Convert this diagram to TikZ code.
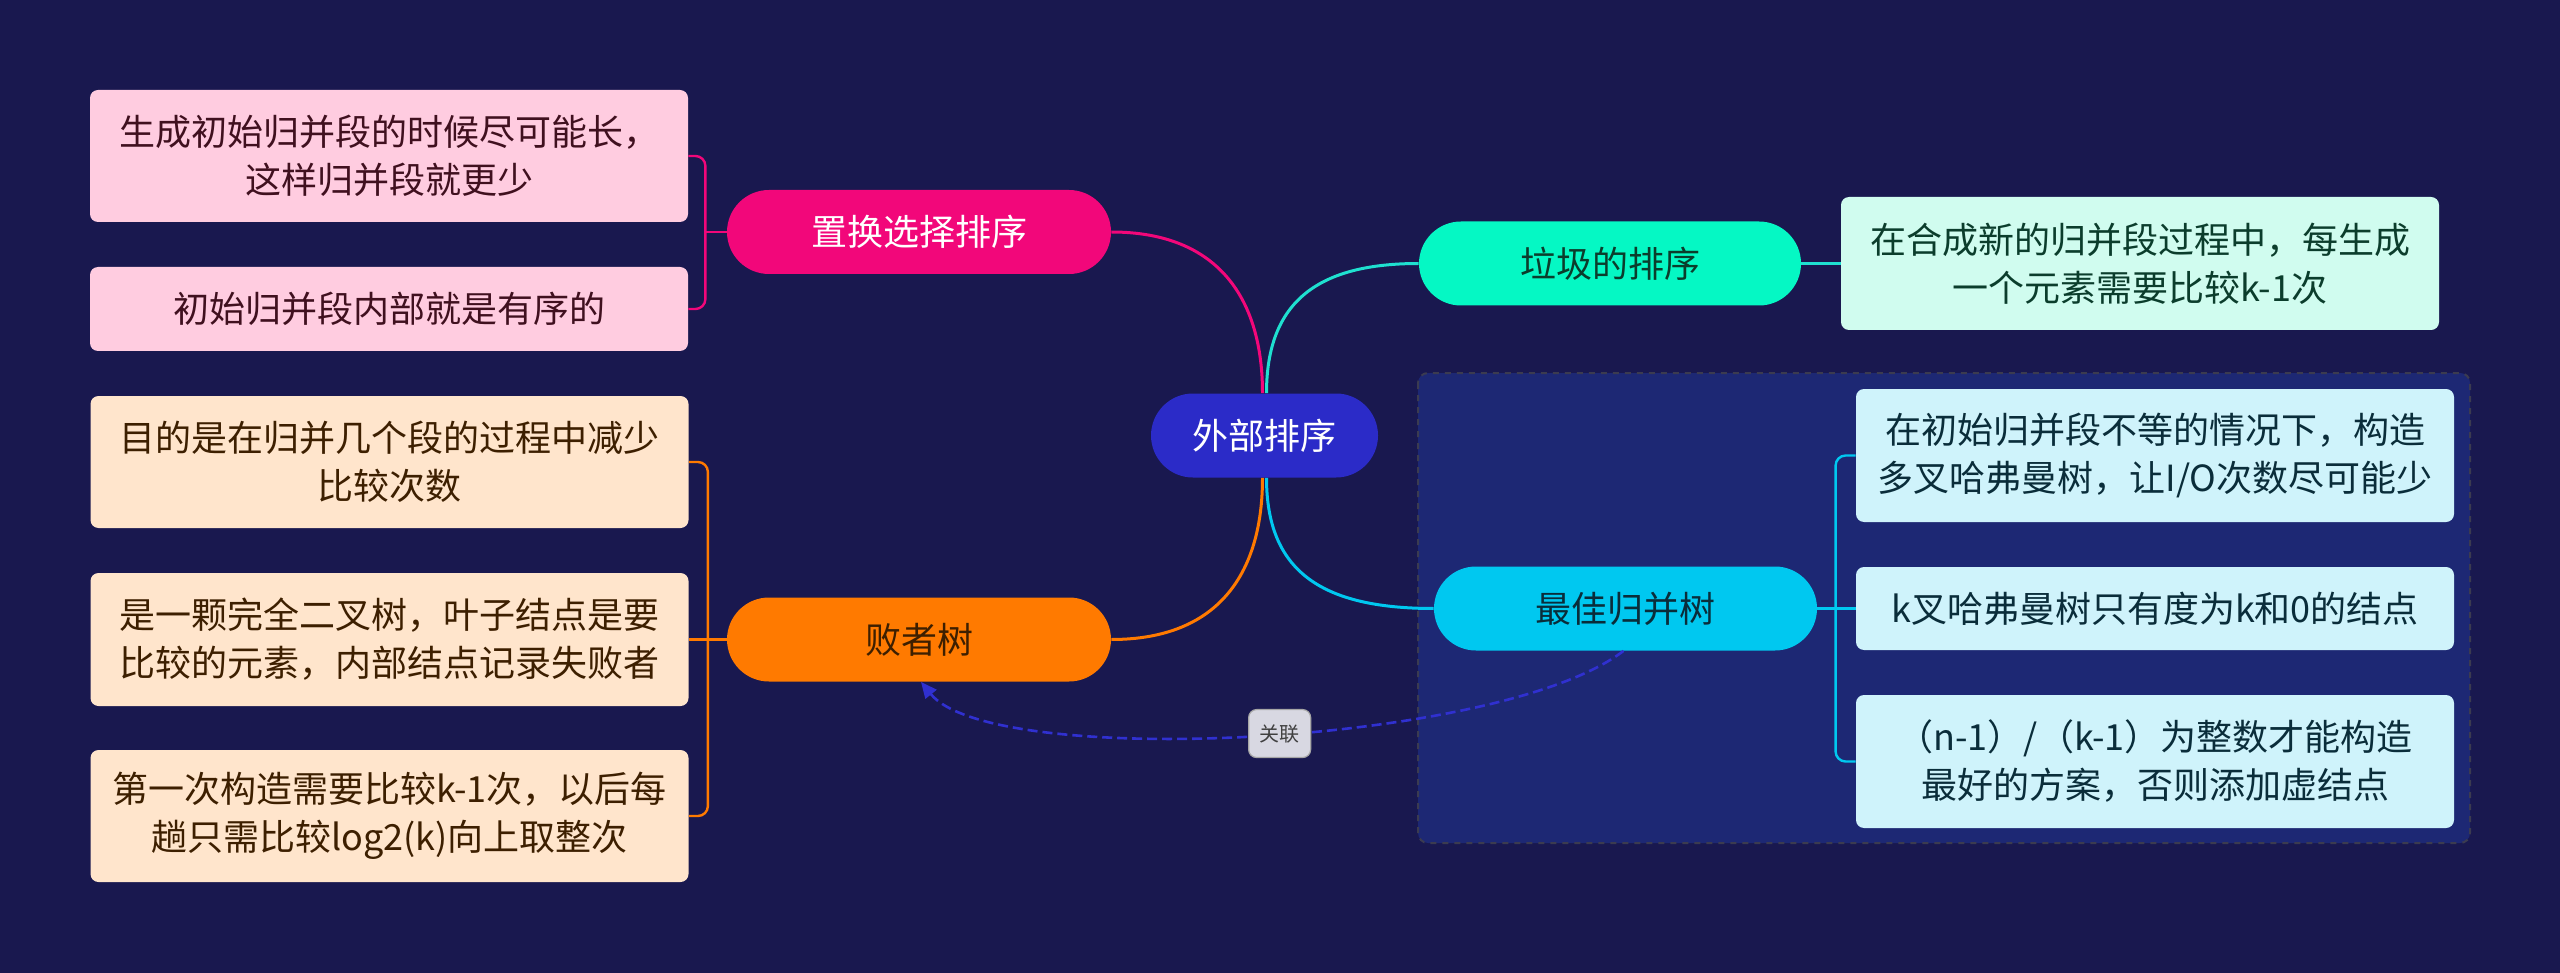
\documentclass[tikz,border=0pt]{standalone}
\usepackage{fontspec}
\setmainfont{Noto Sans CJK SC}
\usetikzlibrary{arrows.meta}
\definecolor{bg}{HTML}{19184F}
\definecolor{boxbg}{HTML}{1D2874}
\definecolor{boxline}{HTML}{3B3B50}
\definecolor{cblue}{HTML}{2B2BC8}
\definecolor{cpink}{HTML}{F2077A}
\definecolor{cteal}{HTML}{05F8C4}
\definecolor{tealline}{HTML}{1FE0D0}
\definecolor{corange}{HTML}{FF7A00}
\definecolor{ccyan}{HTML}{00C8F0}
\definecolor{lpink}{HTML}{FFCCE0}
\definecolor{lpeach}{HTML}{FFE5CC}
\definecolor{lmint}{HTML}{D0FCEF}
\definecolor{lcyan}{HTML}{CFF3FB}
\definecolor{tpink}{HTML}{40101F}
\definecolor{tbrown}{HTML}{3D1F00}
\definecolor{tgreen}{HTML}{0B3D2C}
\definecolor{tcyan}{HTML}{0A2D3A}
\definecolor{relc}{HTML}{3030D0}
\definecolor{lblfill}{HTML}{D8D8E2}
\begin{document}
\begin{tikzpicture}[x=0.5pt,y=-0.5pt,
  mainnode/.style={rounded corners=21pt, minimum width=192pt, minimum height=42pt, inner sep=0pt, font=\fontsize{18pt}{24pt}\selectfont},
  leafbox/.style={rounded corners=4pt, minimum width=299pt, inner sep=0pt, align=center, font=\fontsize{18pt}{24pt}\selectfont},
  conn/.style={line width=1.5pt},
  brk/.style={line width=1.2pt, rounded corners=5pt},
  relline/.style={relc, line width=1.3pt, dash pattern=on 5pt off 2.5pt},
  lbl/.style={fill=lblfill, draw=gray!70, line width=0.6pt, rounded corners=4pt, text=black!75, font=\fontsize{10pt}{12pt}\selectfont, minimum width=31pt, minimum height=24pt, inner sep=0pt}
]
\fill[bg] (0,0) rectangle (2560,973);
\useasboundingbox (0,0) rectangle (2560,973);

% group container
\draw[fill=boxbg, draw=boxline, line width=1pt, dashed, rounded corners=5pt] (1418,373) rectangle (2470,843);

% center
\node[mainnode, fill=cblue, text=white, minimum width=113.5pt] (c) at (1264.5,435.5) {外部排序};

% main topics
\node[mainnode, fill=cpink, text=white] (r1) at (919,232) {置换选择排序};
\node[mainnode, fill=corange, text=tbrown] (r2) at (919,639.5) {败者树};
\node[mainnode, fill=cteal, text=tgreen, minimum width=191pt] (t1) at (1610,263.5) {垃圾的排序};
\node[mainnode, fill=ccyan, text=tcyan, minimum width=191.5pt] (t2) at (1625.5,608.5) {最佳归并树};

% leaves left
\node[leafbox, fill=lpink, text=tpink, minimum height=66pt] (a1) at (389,156) {生成初始归并段的时候尽可能长，\\这样归并段就更少};
\node[leafbox, fill=lpink, text=tpink, minimum height=42pt] (a2) at (389,309) {初始归并段内部就是有序的};
\node[leafbox, fill=lpeach, text=tbrown, minimum height=66pt] (b1) at (389.5,462) {目的是在归并几个段的过程中减少\\比较次数};
\node[leafbox, fill=lpeach, text=tbrown, minimum height=66.5pt] (b2) at (389.5,639.5) {是一颗完全二叉树，叶子结点是要\\比较的元素，内部结点记录失败者};
\node[leafbox, fill=lpeach, text=tbrown, minimum height=66pt] (b3) at (389.5,816) {第一次构造需要比较k-1次，以后每\\趟只需比较log2(k)向上取整次};

% leaves right
\node[leafbox, fill=lmint, text=tgreen, minimum height=66.5pt] (g1) at (2140,263.5) {在合成新的归并段过程中，每生成\\一个元素需要比较k-1次};
\node[leafbox, fill=lcyan, text=tcyan, minimum height=66.5pt] (h1) at (2155,455.5) {在初始归并段不等的情况下，构造\\多叉哈弗曼树，让I/O次数尽可能少};
\node[leafbox, fill=lcyan, text=tcyan, minimum height=41.5pt] (h2) at (2155,608.5) {k叉哈弗曼树只有度为k和0的结点};
\node[leafbox, fill=lcyan, text=tcyan, minimum height=66.5pt] (h3) at (2155,761.5) {（n-1）/（k-1）为整数才能构造\\最好的方案，否则添加虚结点};

% center connectors
\draw[conn, cpink] ([xshift=-1pt]c.north) .. controls +(0,-93) and +(108,0) .. (r1.east);
\draw[conn, tealline] ([xshift=1pt]c.north) .. controls +(0,-93) and +(-99,0) .. (t1.west);
\draw[conn, corange] ([xshift=-1pt]c.south) .. controls +(0,92) and +(110,0) .. (r2.east);
\draw[conn, ccyan] ([xshift=1pt]c.south) .. controls +(0,92) and +(-114,0) .. (t2.west);

% brackets
\draw[brk, cpink] (r1.west) -- ++(-23,0) coordinate (pj);
\draw[brk, cpink] (a1.east) -- ++(17,0) |- (a2.east);
\draw[brk, corange] (b2.east) -- (r2.west);
\draw[brk, corange] (b1.east) -- ++(19,0) |- (b3.east);
\draw[conn, tealline] (t1.east) -- (g1.west);
\draw[brk, ccyan] (t2.east) -- (h2.west);
\draw[brk, ccyan] (h1.west) -- ++(-20,0) |- (h3.west);

% relation
\draw[relline, -{Triangle[length=8pt,width=7pt]}] ([xshift=-1pt]t2.south) .. controls +(-124,95) and +(71,88) .. ([xshift=1pt]r2.south) node[pos=0.47, lbl, solid] (rl) {关联};
\end{tikzpicture}
\end{document}
